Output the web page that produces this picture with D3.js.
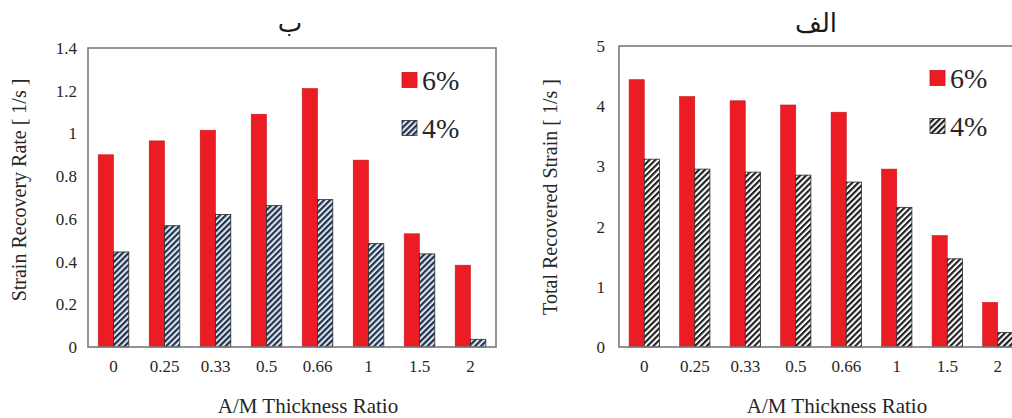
<!DOCTYPE html>
<html>
<head>
<meta charset="utf-8">
<script src="https://cdn.jsdelivr.net/npm/d3@7"></script>
<style>
  html, body { margin: 0; padding: 0; background: #fff; }
  svg { display: block; }
</style>
</head>
<body>
<svg id="chart" width="1012" height="418"></svg>
<script>
// A/M thickness ratios shared by both panels
const ratios = ["0", "0.25", "0.33", "0.5", "0.66", "1", "1.5", "2"];
const seriesNames = ["6%", "4%"];

// Panel ب : strain recovery rate [1/s]
const rate6 = [0.90, 0.965, 1.015, 1.09, 1.21, 0.875, 0.53, 0.383];
const rate4 = [0.445, 0.568, 0.62, 0.662, 0.69, 0.484, 0.436, 0.036];
const rateTicks = [0, 0.2, 0.4, 0.6, 0.8, 1, 1.2, 1.4];

// Panel الف : total recovered strain [1/s]
const strain6 = [4.44, 4.16, 4.09, 4.02, 3.90, 2.955, 1.85, 0.74];
const strain4 = [3.12, 2.955, 2.905, 2.855, 2.74, 2.32, 1.465, 0.24];
const strainTicks = [0, 1, 2, 3, 4, 5];

const svg = d3.select("#chart");
const defs = svg.append("defs");

// diagonal hatch fills for the 4% series
function hatch(id, bg, fg) {
  const p = defs.append("pattern")
    .attr("id", id)
    .attr("patternUnits", "userSpaceOnUse")
    .attr("width", 4.2).attr("height", 4.2)
    .attr("patternTransform", "rotate(45)");
  p.append("rect").attr("width", 4.2).attr("height", 4.2).attr("fill", bg);
  p.append("line").attr("x1", 1.1).attr("x2", 1.1).attr("y1", 0).attr("y2", 4.2)
    .attr("stroke", fg).attr("stroke-width", 2.1);
}
hatch("hatchBlue", "#dbe7f2", "#1d2b45");
hatch("hatchBlack", "#ffffff", "#1a1a1a");

const RED = "#ec1c24";
const serif = "'Liberation Serif', 'Times New Roman', serif";
const textColor = "#262626";

function panel(cfg) {
  const g = svg.append("g");
  const x = d3.scaleBand().domain(ratios).range([cfg.left, cfg.right]).padding(0);
  const y = d3.scaleLinear().domain([cfg.ticks[0], cfg.ticks[cfg.ticks.length - 1]])
    .range([cfg.bottom, cfg.top]);
  const bw = x.bandwidth() * 0.3;

  const rows = ratios.map((r, i) => ({ r, a: cfg.s6[i], b: cfg.s4[i] }));

  g.selectAll("rect.s6").data(rows).join("rect")
    .attr("class", "s6")
    .attr("x", d => x(d.r) + x.bandwidth() / 2 - bw)
    .attr("y", d => y(d.a))
    .attr("width", bw)
    .attr("height", d => y(0) - y(d.a))
    .attr("fill", RED)
    .attr("stroke", "#c8141b").attr("stroke-width", 0.6);

  g.selectAll("rect.s4").data(rows).join("rect")
    .attr("class", "s4")
    .attr("x", d => x(d.r) + x.bandwidth() / 2)
    .attr("y", d => y(d.b))
    .attr("width", bw)
    .attr("height", d => y(0) - y(d.b))
    .attr("fill", `url(#${cfg.hatch})`)
    .attr("stroke", "#2a2a2a").attr("stroke-width", 0.8);

  // plot frame
  g.append("rect")
    .attr("x", cfg.left).attr("y", cfg.top)
    .attr("width", cfg.right - cfg.left).attr("height", cfg.bottom - cfg.top)
    .attr("fill", "none").attr("stroke", "#7a7a7a").attr("stroke-width", 1.6);

  // y axis labels
  const yAxis = d3.axisLeft(y).tickValues(cfg.ticks).tickSize(0).tickPadding(cfg.yPad)
    .tickFormat(d3.format("~g"));
  g.append("g").attr("transform", `translate(${cfg.left},0)`).call(yAxis)
    .call(a => a.select(".domain").remove())
    .selectAll("text")
    .attr("font-family", serif).attr("font-size", 17).attr("fill", textColor);

  // x axis labels
  const xAxis = d3.axisBottom(x).tickSize(0).tickPadding(13);
  g.append("g").attr("transform", `translate(0,${cfg.bottom})`).call(xAxis)
    .call(a => a.select(".domain").remove())
    .selectAll("text")
    .attr("font-family", serif).attr("font-size", 17).attr("fill", textColor);

  // axis titles
  g.append("text")
    .attr("x", (cfg.left + cfg.right) / 2 + cfg.xTitleDx).attr("y", 413)
    .attr("text-anchor", "middle")
    .attr("font-family", serif).attr("font-size", 21).attr("fill", textColor)
    .text("A/M Thickness Ratio");

  g.append("text")
    .attr("transform", `translate(${cfg.yTitleX},${cfg.yTitleY}) rotate(-90)`)
    .attr("text-anchor", "middle").attr("dominant-baseline", "central")
    .attr("font-family", serif).attr("font-size", cfg.yTitleSize).attr("fill", textColor)
    .text(cfg.yTitle);

  // panel letter
  g.append("text")
    .attr("x", cfg.titleX).attr("y", 32)
    .attr("text-anchor", "middle")
    .attr("font-family", "'DejaVu Sans', 'Noto Sans', sans-serif")
    .attr("font-size", 26).attr("fill", "#1a1a1a")
    .text(cfg.title);

  // legend
  const leg = g.append("g");
  const fills = [RED, `url(#${cfg.hatch})`];
  const strokes = ["#c8141b", "#2a2a2a"];
  seriesNames.forEach((name, i) => {
    const cy = cfg.legY[i];
    leg.append("rect")
      .attr("x", cfg.legX).attr("y", cy - 7.5)
      .attr("width", 15).attr("height", 15)
      .attr("fill", fills[i]).attr("stroke", strokes[i]).attr("stroke-width", 0.8);
    leg.append("text")
      .attr("x", cfg.legX + 20).attr("y", cy)
      .attr("dominant-baseline", "central")
      .attr("font-family", serif).attr("font-size", 28).attr("fill", textColor)
      .text(name);
  });
}

panel({
  left: 88, right: 496, top: 48, bottom: 347,
  ticks: rateTicks, s6: rate6, s4: rate4, hatch: "hatchBlue",
  yPad: 11, xTitleDx: 16,
  yTitle: "Strain Recovery Rate [ 1/s ]", yTitleX: 19, yTitleY: 190, yTitleSize: 20,
  title: "ب", titleX: 290,
  legX: 402, legY: [80, 128]
});

panel({
  left: 619, right: 1023, top: 46, bottom: 347,
  ticks: strainTicks, s6: strain6, s4: strain4, hatch: "hatchBlack",
  yPad: 14, xTitleDx: 16,
  yTitle: "Total Recovered Strain [ 1/s ]", yTitleX: 550, yTitleY: 197, yTitleSize: 20,
  title: "الف", titleX: 816,
  legX: 930, legY: [78, 126]
});
</script>
</body>
</html>
